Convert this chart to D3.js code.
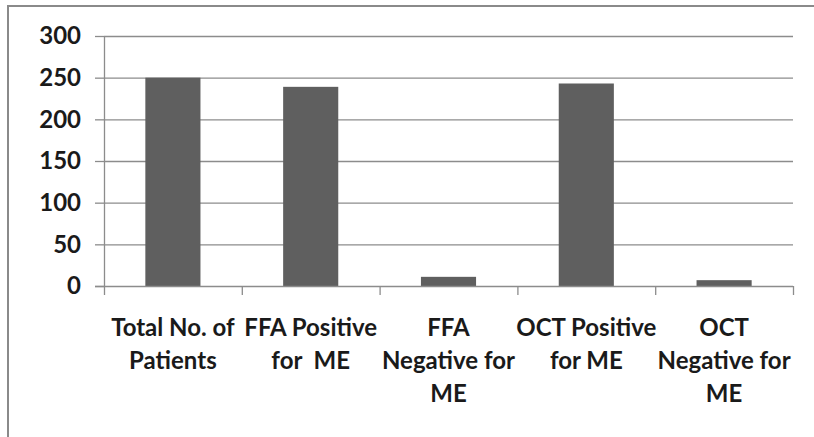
<!DOCTYPE html>
<html><head><meta charset="utf-8">
<script src="https://cdn.jsdelivr.net/npm/d3@7/dist/d3.min.js"></script>
<style>body{margin:0;background:#fff;overflow:hidden}svg{display:block}text{white-space:pre}</style>
</head><body>
<svg id="c" width="814" height="437"></svg>
<script>
const categories = ["Total No. of Patients","FFA Positive for  ME","FFA Negative for ME","OCT Positive for ME","OCT Negative for ME"];
const labelLines = [["Total No. of","Patients"],["FFA Positive","for  ME"],["FFA","Negative for","ME"],["OCT Positive","for ME"],["OCT","Negative for","ME"]];
const values = [250, 239, 11, 243, 7];
const yTicks = [0, 50, 100, 150, 200, 250, 300];

const svg = d3.select("#c");
const font = "Lato, 'Open Sans', sans-serif";
const L = 104, R = 793, T = 36, B = 286;

svg.append("rect").attr("x",8).attr("y",6).attr("width",900).attr("height",600)
  .attr("fill","#fff").attr("stroke","#8a8a8a").attr("stroke-width",2);

const x = d3.scaleBand().domain(categories).range([L, R]).paddingInner(0).paddingOuter(0);
const y = d3.scaleLinear().domain([0, 300]).range([B, T]);

// gridlines
svg.append("g").selectAll("line").data(yTicks.filter(d=>d>0)).join("line")
  .attr("x1", L).attr("x2", R).attr("y1", d=>y(d)+0.5).attr("y2", d=>y(d)+0.5)
  .attr("stroke","#8c8c8c").attr("stroke-width",1.3);

// bars
const bw = x.bandwidth()*0.4;
svg.append("g").selectAll("rect").data(values).join("rect")
  .attr("x",(d,i)=>x(categories[i])+x.bandwidth()/2-bw/2)
  .attr("width",bw)
  .attr("y",d=>y(d)).attr("height",d=>B-y(d))
  .attr("fill","#5f5f5f");

// y axis
const ya = svg.append("g").attr("transform",`translate(${L},0)`)
  .call(d3.axisLeft(y).tickValues(yTicks).tickSize(9).tickPadding(14).tickSizeOuter(0));
ya.select(".domain").remove();
ya.selectAll(".tick line").attr("stroke","#8c8c8c").attr("stroke-width",1.3);
ya.selectAll(".tick text").attr("font-family",font).attr("font-size","24px")
  .attr("font-weight","bold").attr("fill","#1a1a1a");
svg.append("line").attr("x1",L+0.5).attr("x2",L+0.5).attr("y1",T).attr("y2",B+9)
  .attr("stroke","#8c8c8c").attr("stroke-width",1.3);

// x axis
svg.append("line").attr("x1",L-9).attr("x2",R).attr("y1",B+0.5).attr("y2",B+0.5)
  .attr("stroke","#8c8c8c").attr("stroke-width",1.3);
const edges = categories.map(c=>x(c)).concat([R]).slice(1);
svg.append("g").selectAll("line").data(edges).join("line")
  .attr("x1",d=>d+0.5).attr("x2",d=>d+0.5).attr("y1",B).attr("y2",B+9)
  .attr("stroke","#8c8c8c").attr("stroke-width",1.3);

// category labels
const lg = svg.append("g");
categories.forEach((c,i)=>{
  const t = lg.append("text").attr("x",x(c)+x.bandwidth()/2).attr("y",336)
    .attr("text-anchor","middle").attr("font-family",font).attr("font-size","24px")
    .attr("font-weight","bold").attr("fill","#1a1a1a");
  labelLines[i].forEach((s,j)=>{
    t.append("tspan").attr("x",x(c)+x.bandwidth()/2).attr("y",336+j*33).text(s);
  });
});
</script>
</body></html>
